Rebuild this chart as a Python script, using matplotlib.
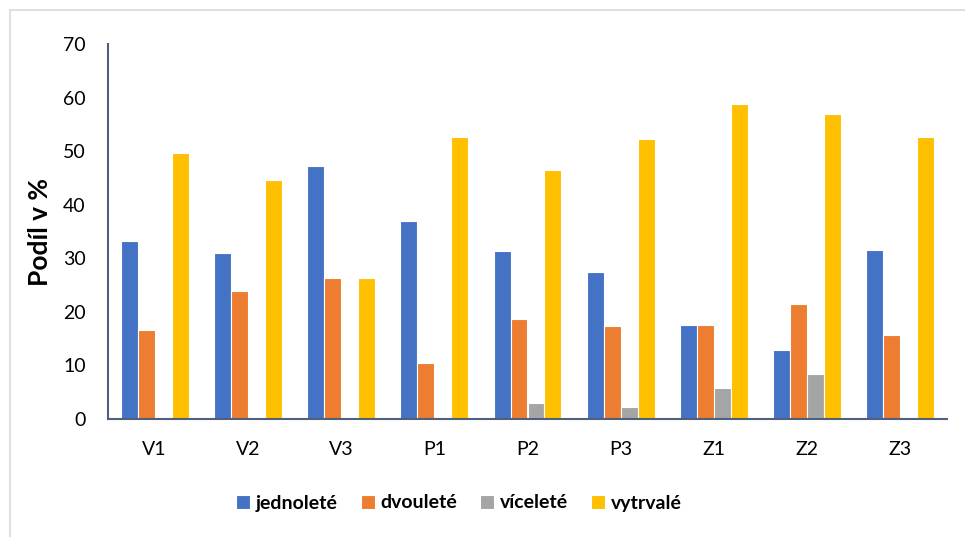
import matplotlib
matplotlib.use("Agg")
import matplotlib.pyplot as plt
import numpy as np
from matplotlib.patches import Rectangle

categories = ["V1", "V2", "V3", "P1", "P2", "P3", "Z1", "Z2", "Z3"]
jednolete = [33.3, 31.0, 47.3, 36.9, 31.3, 27.4, 17.5, 12.8, 31.5]
dvoulete = [16.7, 24.0, 26.3, 10.4, 18.7, 17.4, 17.5, 21.4, 15.7]
vicelete = [0, 0, 0, 0, 3.05, 2.3, 5.7, 8.4, 0]
vytrvale = [49.7, 44.6, 26.3, 52.6, 46.6, 52.4, 58.8, 57.0, 52.6]
series_names = ["jednoleté", "dvouleté", "víceleté", "vytrvalé"]
colors = ["#4472C4", "#ED7D31", "#A5A5A5", "#FFC000"]

plt.rcParams['font.family'] = ['Lato', 'DejaVu Sans']

fig = plt.figure(figsize=(9.65, 5.37), dpi=100)
fig.patches.append(Rectangle((10/965, -0.1), 1.2, 1 - 10/537 + 0.1, transform=fig.transFigure,
                             fill=False, edgecolor="#D9D9D9", linewidth=1.2))
ax = fig.add_axes([108/965, 1 - 419/537, (947-108)/965, (419-44.3)/537])

x = np.arange(len(categories))
w = 0.182
all_series = [jednolete, dvoulete, vicelete, vytrvale]
for i, (vals, name, c) in enumerate(zip(all_series, series_names, colors)):
    ax.bar(x + (i - 1.5) * w, vals, width=w, color=c, edgecolor="white", linewidth=0.8, label=name)

ax.set_xlim(-0.5, len(categories) - 0.5)
ax.set_ylim(0, 70)
ax.set_yticks(range(0, 71, 10))
ax.set_xticks(x)
ax.set_xticklabels(categories)
ax.tick_params(axis='both', length=0, labelsize=14, colors="#000000")
ax.tick_params(axis='y', pad=16)
ax.tick_params(axis='x', pad=16)
for s in ["top", "right"]:
    ax.spines[s].set_visible(False)
for s in ["left", "bottom"]:
    ax.spines[s].set_color("#50607A")
    ax.spines[s].set_linewidth(1.5)

ax.set_ylabel("Podíl v %", fontsize=19, fontweight="bold", labelpad=8)

leg = fig.legend(loc="center", bbox_to_anchor=(459/965, 1 - 503/537), ncol=4, frameon=False,
                 prop={'size': 14, 'weight': 'bold'}, handlelength=0.7, handleheight=0.7,
                 handletextpad=0.3, columnspacing=1.2)

fig.savefig("out.png", dpi=100)
